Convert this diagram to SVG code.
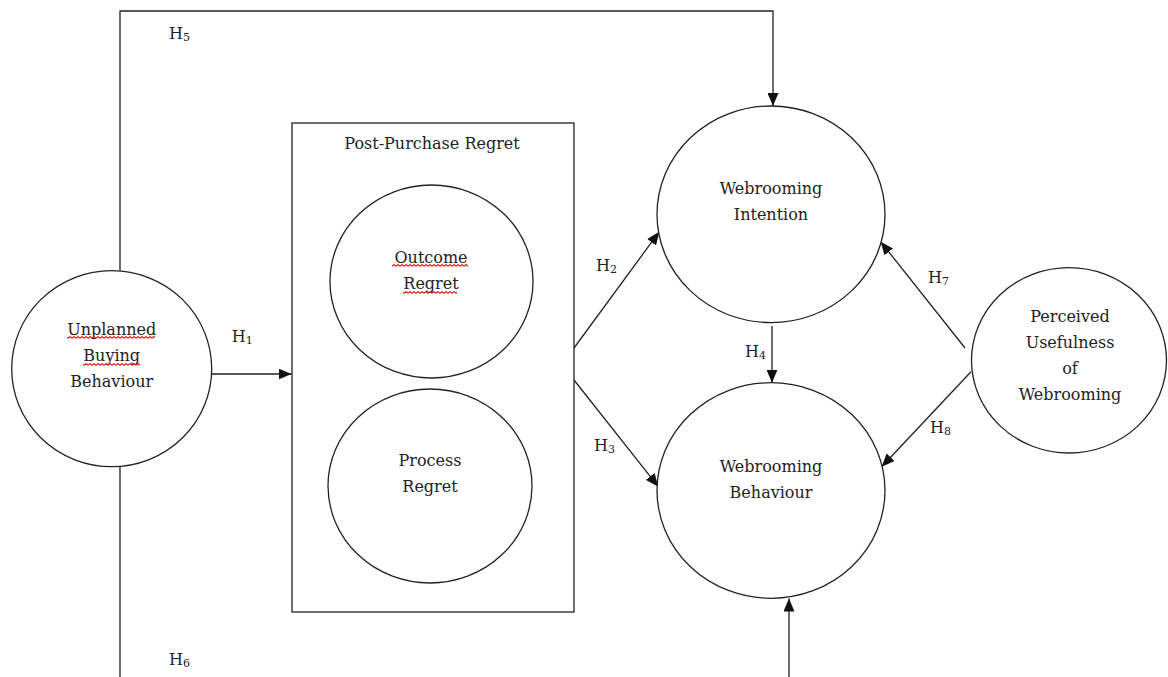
<svg xmlns="http://www.w3.org/2000/svg" width="1168" height="677" viewBox="0 0 1168 677">
<style>
.node{fill:#fff;stroke:#222;stroke-width:1.3}
.lbl{font-family:"DejaVu Serif","Liberation Serif",serif;font-size:16px;fill:#222;text-anchor:middle}
.h{font-family:"DejaVu Serif","Liberation Serif",serif;font-size:16px;fill:#222}
.sub{font-size:11px}
.conn{fill:none;stroke:#222;stroke-width:1.3}
.sq{fill:url(#squig)}
</style>
<defs>
<marker id="arr" markerWidth="13" markerHeight="11" refX="13" refY="5.5" orient="auto" markerUnits="userSpaceOnUse">
<path d="M0,0 L13,5.5 L0,11 z" fill="#111"/>
</marker>
<pattern id="squig" width="4" height="3" patternUnits="userSpaceOnUse">
<path d="M0,2.4 L2,0.6 L4,2.4" fill="none" stroke="#e41a1a" stroke-width="1.2"/>
</pattern>
</defs>
<rect width="1168" height="677" fill="#fff"/>

<g id="connectors">
<path class="conn" d="M120,270.7 V11 H773 V106" marker-end="url(#arr)"/>
<path class="conn" d="M120,466.7 V677"/>
<path class="conn" d="M789,677 V598.5" marker-end="url(#arr)"/>
<path class="conn" d="M211.7,374 H291.5" marker-end="url(#arr)"/>
<path class="conn" d="M574,348 L659.3,231.7" marker-end="url(#arr)"/>
<path class="conn" d="M574,380 L658.3,486.7" marker-end="url(#arr)"/>
<path class="conn" d="M772,326 V382.7" marker-end="url(#arr)"/>
<path class="conn" d="M965,348 L880.7,241.7" marker-end="url(#arr)"/>
<path class="conn" d="M971,371.7 L881.7,466.7" marker-end="url(#arr)"/>
<text class="h" x="231.7" y="341.7">H<tspan class="sub" dy="2">1</tspan></text>
<text class="h" x="596" y="270.7">H<tspan class="sub" dy="2">2</tspan></text>
<text class="h" x="594" y="450.7">H<tspan class="sub" dy="2">3</tspan></text>
<text class="h" x="745" y="356.7">H<tspan class="sub" dy="2">4</tspan></text>
<text class="h" x="169" y="39">H<tspan class="sub" dy="2">5</tspan></text>
<text class="h" x="169" y="665">H<tspan class="sub" dy="2">6</tspan></text>
<text class="h" x="928" y="282.7">H<tspan class="sub" dy="2">7</tspan></text>
<text class="h" x="930" y="433">H<tspan class="sub" dy="2">8</tspan></text>
</g>

<g id="unplanned">
<ellipse class="node" cx="111.7" cy="368.7" rx="100" ry="98"/>
<text class="lbl" x="111.7" y="335">Unplanned</text>
<text class="lbl" x="111.7" y="361">Buying</text>
<text class="lbl" x="111.7" y="387">Behaviour</text>
<rect class="sq" x="67" y="336" width="88" height="3"/>
<rect class="sq" x="83" y="363" width="57" height="3"/>
</g>

<g id="post-purchase-regret">
<rect class="node" x="292" y="123" width="282" height="489"/>
<text class="lbl" x="432" y="149">Post-Purchase Regret</text>
</g>

<g id="outcome-regret">
<ellipse class="node" cx="431.5" cy="281.5" rx="101.5" ry="96.5"/>
<text class="lbl" x="431" y="262.5">Outcome</text>
<text class="lbl" x="431" y="288.5">Regret</text>
<rect class="sq" x="392" y="264" width="76" height="3"/>
<rect class="sq" x="403" y="291" width="54" height="3"/>
</g>

<g id="process-regret">
<ellipse class="node" cx="430" cy="486" rx="102" ry="97"/>
<text class="lbl" x="430" y="466">Process</text>
<text class="lbl" x="430" y="492">Regret</text>
</g>

<g id="webrooming-intention">
<ellipse class="node" cx="771" cy="214.3" rx="114" ry="108.3"/>
<text class="lbl" x="771" y="194">Webrooming</text>
<text class="lbl" x="771" y="220">Intention</text>
</g>

<g id="webrooming-behaviour">
<ellipse class="node" cx="771" cy="490.5" rx="114" ry="107.8"/>
<text class="lbl" x="771" y="471.5">Webrooming</text>
<text class="lbl" x="771" y="497.5">Behaviour</text>
</g>

<g id="perceived-usefulness">
<ellipse class="node" cx="1069" cy="360.3" rx="97.5" ry="92.7"/>
<text class="lbl" x="1070" y="321.5">Perceived</text>
<text class="lbl" x="1070" y="347.5">Usefulness</text>
<text class="lbl" x="1070" y="373.5">of</text>
<text class="lbl" x="1070" y="399.5">Webrooming</text>
</g>
</svg>
